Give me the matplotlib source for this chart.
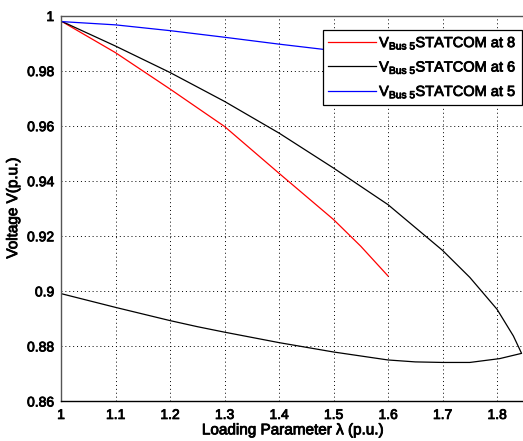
import matplotlib
matplotlib.use("Agg")
import matplotlib.pyplot as plt
import matplotlib.patheffects as pe

plt.rcParams['font.family'] = ['Liberation Sans', 'DejaVu Sans']
plt.rcParams['mathtext.fontset'] = 'custom'
plt.rcParams['mathtext.rm'] = 'Liberation Sans'
plt.rcParams['mathtext.it'] = 'Liberation Sans'

# STATCOM at bus 8
lam_8 = [1.0, 1.1, 1.2, 1.3, 1.4, 1.5, 1.55, 1.6]
v_8 = [0.998, 0.9865, 0.9733, 0.9597, 0.9427, 0.9259, 0.9162, 0.9054]

# STATCOM at bus 6 (upper branch then lower branch)
lam_6 = [1.0, 1.1, 1.2, 1.3, 1.4, 1.5, 1.6, 1.7, 1.75, 1.8, 1.83, 1.845,
         1.805, 1.75, 1.7, 1.65, 1.6, 1.5, 1.4, 1.3, 1.25, 1.2, 1.1, 1.0]
v_6 = [0.998, 0.9889, 0.9793, 0.9688, 0.9573, 0.9446, 0.9313, 0.9147, 0.9049, 0.8933, 0.8836, 0.8773,
       0.8754, 0.8740, 0.8740, 0.8742, 0.8749, 0.8778, 0.8812, 0.8850, 0.8870, 0.8892, 0.8940, 0.8990]

# STATCOM at bus 5
lam_5 = [1.0, 1.1, 1.2, 1.3, 1.4, 1.49, 1.6, 1.7, 1.8, 1.85]
v_5 = [0.9978, 0.9966, 0.9945, 0.9921, 0.9896, 0.9875, 0.9845, 0.981, 0.977, 0.9738]

labels = [r'V$_{\mathrm{Bus\ 5}}$STATCOM at 8',
          r'V$_{\mathrm{Bus\ 5}}$STATCOM at 6',
          r'V$_{\mathrm{Bus\ 5}}$STATCOM at 5']

xticks = [1, 1.1, 1.2, 1.3, 1.4, 1.5, 1.6, 1.7, 1.8]
xticklabels = ['1', '1.1', '1.2', '1.3', '1.4', '1.5', '1.6', '1.7', '1.8']
yticks = [0.86, 0.88, 0.9, 0.92, 0.94, 0.96, 0.98, 1.0]
yticklabels = ['0.86', '0.88', '0.9', '0.92', '0.94', '0.96', '0.98', '1']

W, H = 523, 441
fig = plt.figure(figsize=(W / 100, H / 100), dpi=100)
ax = fig.add_axes([61 / W, (H - 401) / H, (524.3 - 61) / W, (401 - 15.5) / H])

ax.plot(lam_8, v_8, color='red', lw=0.9, label=labels[0])
ax.plot(lam_6, v_6, color='black', lw=0.9, label=labels[1])
ax.plot(lam_5, v_5, color='blue', lw=0.9, label=labels[2])

ax.set_xlim(1, 1.85)
ax.set_ylim(0.86, 1.0)
ax.set_xticks(xticks)
ax.set_xticklabels(xticklabels)
ax.set_yticks(yticks)
ax.set_yticklabels(yticklabels)
ax.tick_params(labelsize=10, direction='in', length=0)
ax.tick_params(axis='y', pad=5)
ax.tick_params(axis='x', pad=5)
ax.grid(True, linestyle=(0, (1, 3)), color='black', lw=0.7)
for s in ax.spines.values():
    s.set_color('#555555')
    s.set_linewidth(1.0)
ax.spines['bottom'].set_color('black')

stroke = [pe.withStroke(linewidth=0.6, foreground='black')]
for t in ax.get_xticklabels() + ax.get_yticklabels():
    t.set_path_effects(stroke)

xl = ax.set_xlabel('Loading Parameter λ (p.u.)', fontsize=11, labelpad=1)
yl = ax.set_ylabel('Voltage V(p.u.)', fontsize=11, labelpad=5)
xl.set_path_effects(stroke)
yl.set_path_effects(stroke)

leg = ax.legend(loc='upper right', bbox_to_anchor=(522 / W, 1 - 30 / H),
                bbox_transform=fig.transFigure, fontsize=10.5,
                fancybox=False, framealpha=1, edgecolor='black',
                handlelength=3.3, borderpad=0.35, labelspacing=0.55,
                handletextpad=0.2, borderaxespad=0)
leg.get_frame().set_linewidth(0.9)
for t in leg.get_texts():
    t.set_path_effects(stroke)

fig.savefig('out.png', dpi=100)
